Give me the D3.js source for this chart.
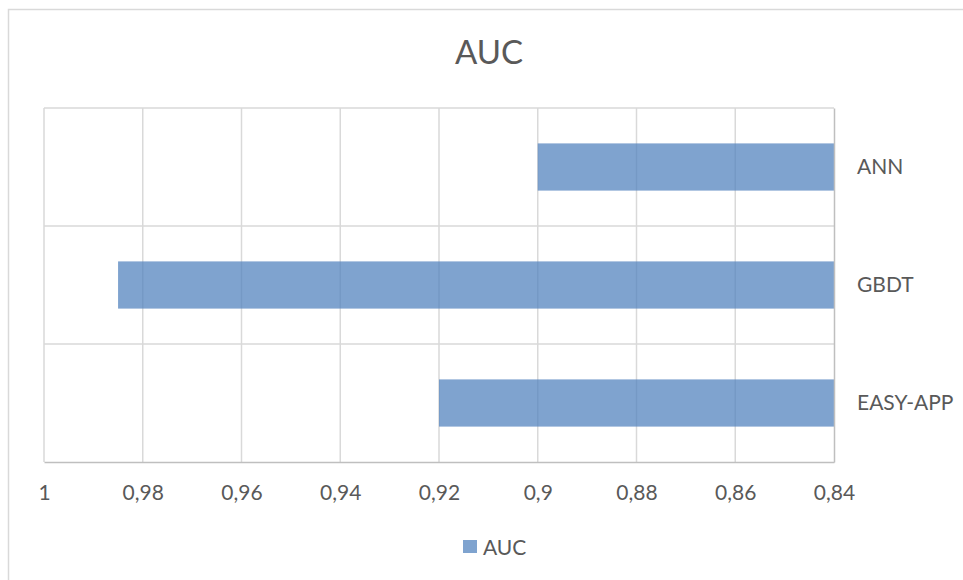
<!DOCTYPE html>
<html>
<head>
<meta charset="utf-8">
<script src="https://cdn.jsdelivr.net/npm/d3@7"></script>
<style>
  html, body { margin: 0; padding: 0; background: #fff; }
  svg { display: block; font-family: Lato, "Open Sans", sans-serif; }
</style>
</head>
<body>
<svg id="chart" width="963" height="580"></svg>
<script>
// Chart data
const categories = ["ANN", "GBDT", "EASY-APP"];
const aucValues = [0.90, 0.985, 0.92];
const tickValues = [1, 0.98, 0.96, 0.94, 0.92, 0.90, 0.88, 0.86, 0.84];
const tickLabels = ["1", "0,98", "0,96", "0,94", "0,92", "0,9", "0,88", "0,86", "0,84"];
const seriesName = "AUC";
const chartTitle = "AUC";

const textColor = "#595959";
const gridColor = "#d9d9d9";
const axisColor = "#bfbfbf";
const barColor = "#4F81BD";

const svg = d3.select("#chart");

// Outer chart frame
svg.append("rect")
  .attr("x", 8.5).attr("y", 9.5)
  .attr("width", 1000).attr("height", 700)
  .attr("fill", "#fff")
  .attr("stroke", gridColor)
  .attr("stroke-width", 1.5);

const plot = { left: 44, right: 834, top: 108, bottom: 462 };

// Value axis runs in reverse: 1 on the left, 0.84 on the right
const x = d3.scaleLinear()
  .domain([1, 0.84])
  .range([plot.left, plot.right]);

const y = d3.scaleBand()
  .domain(categories)
  .range([plot.top, plot.bottom])
  .padding(0);

// Vertical gridlines
svg.append("g")
  .selectAll("line")
  .data(tickValues.slice(0, -1))
  .join("line")
  .attr("x1", d => x(d)).attr("x2", d => x(d))
  .attr("y1", plot.top).attr("y2", plot.bottom)
  .attr("stroke", gridColor)
  .attr("stroke-width", 1.5);

// Horizontal gridlines between categories
svg.append("g")
  .selectAll("line")
  .data(categories)
  .join("line")
  .attr("x1", plot.left).attr("x2", plot.right)
  .attr("y1", d => y(d)).attr("y2", d => y(d))
  .attr("stroke", gridColor)
  .attr("stroke-width", 1.5);

// Bars grow from the right-hand baseline (0.84) toward their value
const barH = y.bandwidth() * 0.4;
svg.append("g")
  .selectAll("rect")
  .data(categories.map((c, i) => ({ c, v: aucValues[i] })))
  .join("rect")
  .attr("x", d => x(d.v))
  .attr("width", d => x(0.84) - x(d.v))
  .attr("y", d => y(d.c) + (y.bandwidth() - barH) / 2)
  .attr("height", barH)
  .attr("fill", barColor)
  .attr("fill-opacity", 0.73);

// Bottom value axis
const xAxis = d3.axisBottom(x)
  .tickValues(tickValues)
  .tickFormat((d, i) => tickLabels[i])
  .tickSize(0)
  .tickPadding(23);

const gx = svg.append("g")
  .attr("transform", `translate(0,${plot.bottom})`)
  .call(xAxis);
gx.attr("font-family", null);
gx.select(".domain").attr("stroke", axisColor).attr("stroke-width", 1.5);
gx.selectAll("text")
  .attr("fill", textColor)
  .style("font-size", "21px");

// Right category axis
const yAxis = d3.axisRight(y).tickSize(0).tickPadding(23);
const gy = svg.append("g")
  .attr("transform", `translate(${plot.right},0)`)
  .call(yAxis);
gy.attr("font-family", null);
gy.select(".domain").attr("stroke", axisColor).attr("stroke-width", 1.5);
gy.selectAll("text")
  .attr("fill", textColor)
  .style("font-size", "21px");

// Title
svg.append("text")
  .attr("x", 489).attr("y", 64)
  .attr("text-anchor", "middle")
  .attr("fill", textColor)
  .style("font-size", "33px")
  .text(chartTitle);

// Legend
const legend = svg.append("g").attr("transform", "translate(463,540)");
legend.append("rect")
  .attr("width", 14).attr("height", 13)
  .attr("fill", barColor)
  .attr("fill-opacity", 0.73);
legend.append("text")
  .attr("x", 20).attr("y", 14.5)
  .attr("fill", textColor)
  .style("font-size", "21px")
  .text(seriesName);
</script>
</body>
</html>
